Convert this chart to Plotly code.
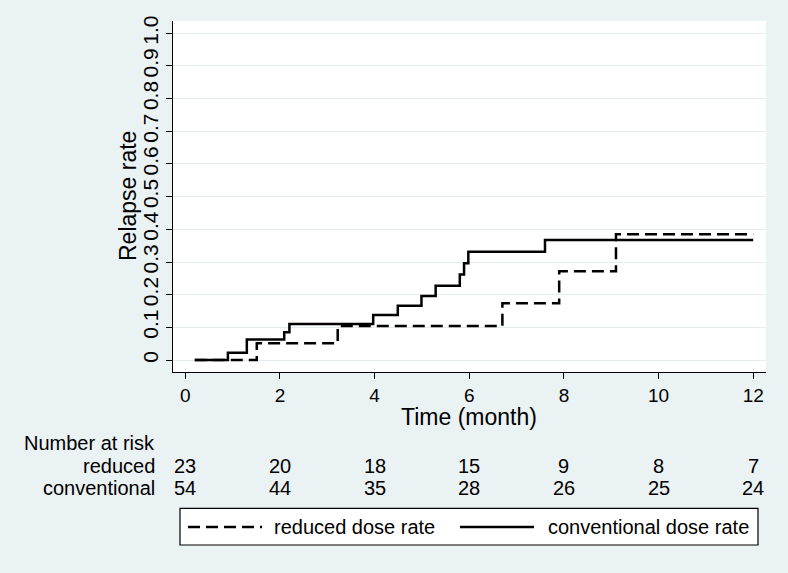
import plotly.graph_objects as go

# ---- data ----
conv_time = [0.2, 0.9, 1.3, 2.09, 2.2, 3.97, 4.49, 4.99, 5.29, 5.8, 5.89, 5.98, 7.6, 12.0]
conv_rate = [0.0, 0.022, 0.063, 0.085, 0.11, 0.138, 0.166, 0.196, 0.227, 0.262, 0.296, 0.331, 0.367, 0.367]
red_time = [0.2, 1.51, 3.22, 6.70, 7.9, 9.1, 12.0]
red_rate = [0.0, 0.051, 0.104, 0.174, 0.272, 0.385, 0.385]

risk_times = [0, 2, 4, 6, 8, 10, 12]
risk_reduced = [23, 20, 18, 15, 9, 8, 7]
risk_conventional = [54, 44, 35, 28, 26, 25, 24]

y_ticks = [0, 0.1, 0.2, 0.3, 0.4, 0.5, 0.6, 0.7, 0.8, 0.9, 1.0]
y_tick_labels = ["0", "0.1", "0.2", "0.3", "0.4", "0.5", "0.6", "0.7", "0.8", "0.9", "1.0"]
x_ticks = [0, 2, 4, 6, 8, 10, 12]

FONT = "Liberation Sans, Arial, Helvetica, sans-serif"
BG = "#eaf2f3"

fig = go.Figure()
fig.add_trace(go.Scatter(x=red_time, y=red_rate, mode="lines", line_shape="hv",
                         line=dict(color="black", width=2.5, dash="12px,6px"),
                         name="reduced dose rate", showlegend=False))
fig.add_trace(go.Scatter(x=conv_time, y=conv_rate, mode="lines", line_shape="hv",
                         line=dict(color="black", width=2.5),
                         name="conventional dose rate", showlegend=False))

# helper: pixel y -> paper y (plot area top 21, height 351)
def py(pix):
    return 1 - (pix - 21) / 351.0

def px(pix):
    return (pix - 173) / 593.0

ann = []
ann.append(dict(text="Number at risk", x=px(157), y=py(442.7), xref="paper", yref="paper",
                xanchor="right", yanchor="middle", showarrow=False, font=dict(size=20)))
ann.append(dict(text="reduced", x=px(157), y=py(465.7), xref="paper", yref="paper",
                xanchor="right", yanchor="middle", showarrow=False, font=dict(size=20)))
ann.append(dict(text="conventional", x=px(157), y=py(487.7), xref="paper", yref="paper",
                xanchor="right", yanchor="middle", showarrow=False, font=dict(size=20)))
for t, r, c in zip(risk_times, risk_reduced, risk_conventional):
    ann.append(dict(text=str(r), x=t, y=py(465.7), xref="x", yref="paper",
                    xanchor="center", yanchor="middle", showarrow=False, font=dict(size=20)))
    ann.append(dict(text=str(c), x=t, y=py(487.7), xref="x", yref="paper",
                    xanchor="center", yanchor="middle", showarrow=False, font=dict(size=20)))

# axis titles
ann.append(dict(text="Time (month)", x=6, y=py(416.7), xref="x", yref="paper",
                xanchor="center", yanchor="middle", showarrow=False, font=dict(size=23)))
ann.append(dict(text="Relapse rate", x=px(128), y=py(196), xref="paper", yref="paper",
                xanchor="center", yanchor="middle", textangle=-90, showarrow=False,
                font=dict(size=23)))

# custom legend
ann.append(dict(text="reduced dose rate", x=px(272), y=py(527), xref="paper", yref="paper",
                xanchor="left", yanchor="middle", showarrow=False, font=dict(size=20)))
ann.append(dict(text="conventional dose rate", x=px(546), y=py(527), xref="paper", yref="paper",
                xanchor="left", yanchor="middle", showarrow=False, font=dict(size=20)))

shapes = [
    dict(type="rect", xref="paper", yref="paper", x0=px(180), x1=px(758), y0=py(545), y1=py(508.3),
         line=dict(color="black", width=1.2), fillcolor="white", layer="below"),
    dict(type="line", xref="paper", yref="paper", x0=px(188), x1=px(262), y0=py(527), y1=py(527),
         line=dict(color="black", width=2.5, dash="12px,6px")),
    dict(type="line", xref="paper", yref="paper", x0=px(460), x1=px(534), y0=py(527), y1=py(527),
         line=dict(color="black", width=2.5)),
]

fig.update_layout(
    width=788, height=573,
    margin=dict(l=173, r=22, t=21, b=201),
    paper_bgcolor=BG, plot_bgcolor="white",
    font=dict(family=FONT, color="black", size=19),
    annotations=ann, shapes=shapes,
    showlegend=False,
)
fig.update_xaxes(range=[-0.26, 12.27], tickvals=x_ticks, ticks="outside", ticklen=6,
                 tickwidth=1.2, tickcolor="black", showline=True, linecolor="black",
                 linewidth=1.2, showgrid=False, zeroline=False,
                 tickfont=dict(size=19))
fig.update_yaxes(range=[-0.0367, 1.0377], tickvals=y_ticks, ticktext=y_tick_labels,
                 ticks="outside", ticklen=6, tickwidth=1.2, tickcolor="black",
                 showline=True, linecolor="black", linewidth=1.2,
                 showgrid=True, gridcolor="#e4ecef", gridwidth=1, zeroline=False,
                 tickangle=-90, tickfont=dict(size=21))

fig.write_html(
    "out.html",
    config={"displayModeBar": False},
    post_script="document.body.style.margin='0';document.body.style.background='%s';" % BG,
)
